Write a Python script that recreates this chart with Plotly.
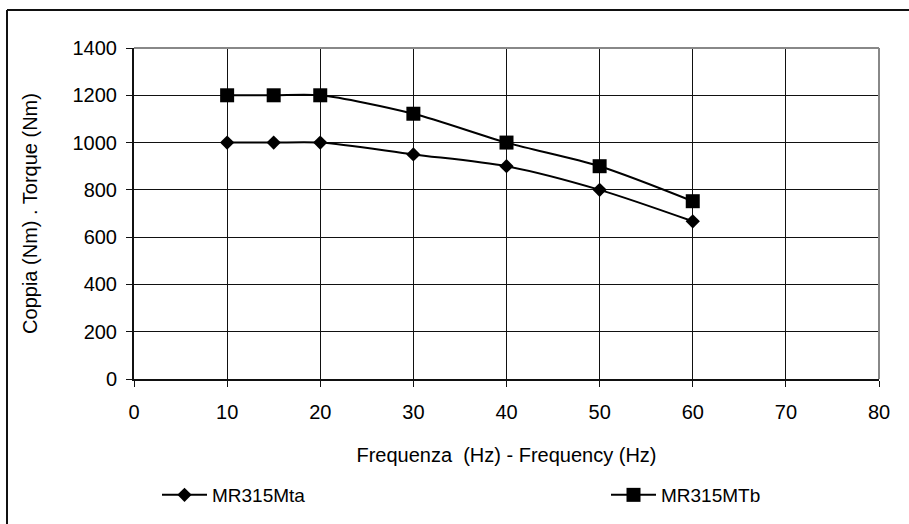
import plotly.graph_objects as go

freq = [10, 15, 20, 30, 40, 50, 60]
torque_mta = [1000, 1000, 1000, 950, 900, 800, 667]
torque_mtb = [1200, 1200, 1200, 1122, 1000, 900, 752]
series_names = ["MR315Mta", "MR315MTb"]
x_title = "Frequenza  (Hz) - Frequency (Hz)"
y_title = "Coppia (Nm) . Torque (Nm)"

FONT = "Liberation Sans, Arial, sans-serif"

fig = go.Figure()
fig.add_trace(go.Scatter(
    x=freq, y=torque_mta, name=series_names[0], mode="lines+markers",
    line=dict(color="black", width=2, shape="spline", smoothing=0.8),
    marker=dict(symbol="diamond", size=11, color="black"),
    legend="legend", showlegend=True,
))
fig.add_trace(go.Scatter(
    x=freq, y=torque_mtb, name=series_names[1], mode="lines+markers",
    line=dict(color="black", width=2, shape="spline", smoothing=0.8),
    marker=dict(symbol="square", size=14, color="black"),
    legend="legend2", showlegend=True,
))

L, R, T, B = 134, 30, 48, 144
W, H = 909, 524
pw, ph = W - L - R, H - T - B

def px(x):
    return (x - L) / pw

def py(y):
    return (H - B - y) / ph

fig.update_layout(
    width=W, height=H,
    margin=dict(l=L, r=R, t=T, b=B),
    paper_bgcolor="white", plot_bgcolor="white",
    showlegend=True,
    font=dict(family=FONT, size=20, color="black"),
    xaxis=dict(
        range=[0, 80], tick0=0, dtick=10, showgrid=True, gridcolor="#111", gridwidth=1,
        showline=True, linecolor="#111", linewidth=2, ticks="outside", ticklen=6,
        tickcolor="#111", tickwidth=1, zeroline=False, ticklabelstandoff=8,
        title=dict(text=x_title, font=dict(size=20), standoff=26),
    ),
    yaxis=dict(
        range=[0, 1400], tick0=0, dtick=200, showgrid=True, gridcolor="#111", gridwidth=1,
        showline=True, linecolor="#111", linewidth=2, ticks="outside", ticklen=6,
        tickcolor="#111", tickwidth=1, zeroline=False, ticklabelstandoff=5,
        title=dict(text=y_title, font=dict(size=20), standoff=30),
    ),
    legend=dict(orientation="h", x=px(157), y=py(495), xanchor="left", yanchor="middle",
                font=dict(size=19), bgcolor="rgba(0,0,0,0)", itemwidth=45),
    legend2=dict(orientation="h", x=px(606), y=py(495), xanchor="left", yanchor="middle",
                 font=dict(size=19), bgcolor="rgba(0,0,0,0)", itemwidth=45),
    shapes=[
        dict(type="line", xref="paper", yref="paper", x0=0, x1=1, y0=1, y1=1,
             line=dict(color="#888", width=2)),
        dict(type="line", xref="paper", yref="paper", x0=1, x1=1, y0=0, y1=1,
             line=dict(color="#888", width=2)),
        dict(type="line", xref="paper", yref="paper", x0=px(7), x1=px(915), y0=py(10), y1=py(10),
             line=dict(color="#111", width=2)),
        dict(type="line", xref="paper", yref="paper", x0=px(7), x1=px(7), y0=py(10), y1=py(530),
             line=dict(color="#111", width=2)),
    ],
)

fig.write_html("out.html")
